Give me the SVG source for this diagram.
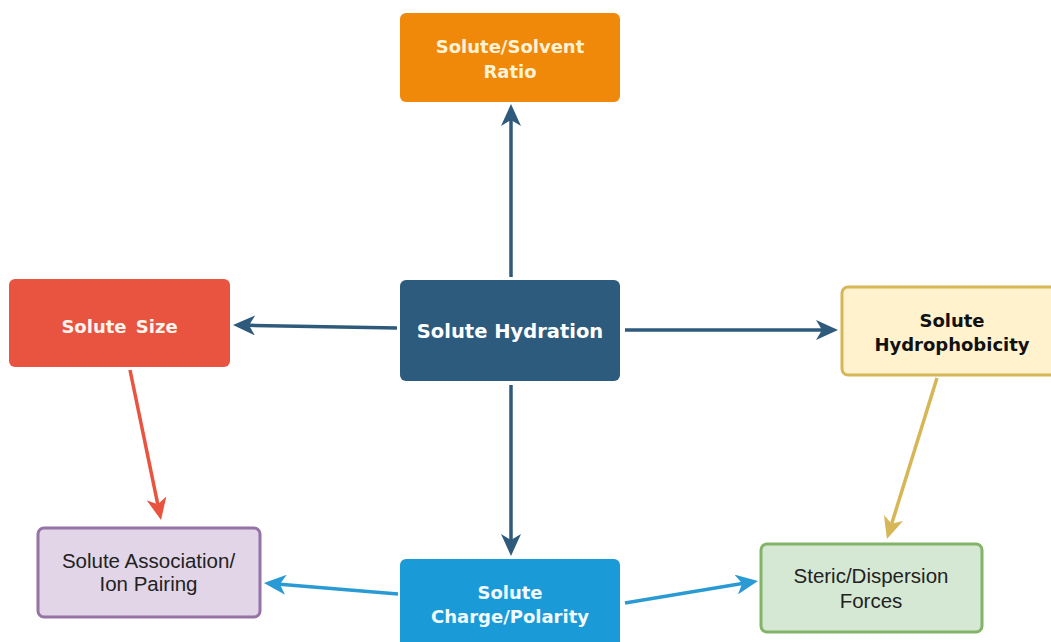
<svg xmlns="http://www.w3.org/2000/svg" width="1051" height="642" viewBox="0 0 1051 642">
<style>
.b{font-family:"DejaVu Sans",Verdana,sans-serif;font-weight:bold;font-size:18px;text-anchor:middle}
.n{font-family:"Liberation Sans",Arial,sans-serif;font-size:20.5px;text-anchor:middle;fill:#222}
.c{fill:none;stroke-width:3.5}
</style>
<defs>
<marker id="mDark" viewBox="0 0 22 20" markerWidth="22" markerHeight="20" refX="6" refY="10" orient="auto" markerUnits="userSpaceOnUse"><path d="M0,0 L22,10 L0,20 L6,10 z" fill="#2E5A7C"/></marker>
<marker id="mRed" viewBox="0 0 22 20" markerWidth="22" markerHeight="20" refX="6" refY="10" orient="auto" markerUnits="userSpaceOnUse"><path d="M0,0 L22,10 L0,20 L6,10 z" fill="#E8543F"/></marker>
<marker id="mGold" viewBox="0 0 22 20" markerWidth="22" markerHeight="20" refX="6" refY="10" orient="auto" markerUnits="userSpaceOnUse"><path d="M0,0 L22,10 L0,20 L6,10 z" fill="#D6B656"/></marker>
<marker id="mBlue" viewBox="0 0 22 20" markerWidth="22" markerHeight="20" refX="6" refY="10" orient="auto" markerUnits="userSpaceOnUse"><path d="M0,0 L22,10 L0,20 L6,10 z" fill="#2A9AD5"/></marker>
</defs>
<rect width="1051" height="642" fill="#ffffff"/>
<g id="connectors">
<line class="c" x1="511" y1="277" x2="511" y2="120" stroke="#2E5A7C" marker-end="url(#mDark)"/>
<line class="c" x1="397" y1="328" x2="249" y2="325.3" stroke="#2E5A7C" marker-end="url(#mDark)"/>
<line class="c" x1="625" y1="330" x2="822" y2="330" stroke="#2E5A7C" marker-end="url(#mDark)"/>
<line class="c" x1="511" y1="385" x2="511" y2="540" stroke="#2E5A7C" marker-end="url(#mDark)"/>
<line class="c" x1="130" y1="370" x2="157.8" y2="504.3" stroke="#E8543F" marker-end="url(#mRed)"/>
<line class="c" x1="937" y1="378" x2="891.7" y2="523.7" stroke="#D6B656" marker-end="url(#mGold)"/>
<line class="c" x1="398" y1="594" x2="279.9" y2="584.3" stroke="#2A9AD5" marker-end="url(#mBlue)"/>
<line class="c" x1="625" y1="603" x2="742.2" y2="583.6" stroke="#2A9AD5" marker-end="url(#mBlue)"/>
</g>
<g id="ratio">
<rect x="400" y="13" width="220" height="89" rx="6" fill="#F0880A"/>
<text class="b" x="510" y="53" fill="#FFF2D6">Solute/Solvent</text>
<text class="b" x="510" y="78" fill="#FFF2D6">Ratio</text>
</g>
<g id="hydration">
<rect x="400" y="280" width="220" height="101" rx="6" fill="#2D5B7E"/>
<text class="b" x="510" y="338" fill="#FFFFFF" style="font-size:19.5px">Solute Hydration</text>
</g>
<g id="size">
<rect x="9" y="279" width="221" height="88" rx="6" fill="#E8543F"/>
<text class="b" x="119.5" y="333" fill="#FFF4EE" style="word-spacing:3px">Solute Size</text>
</g>
<g id="hydrophobicity">
<rect x="842" y="287" width="220" height="88" rx="6" fill="#FFF2CC" stroke="#D6B656" stroke-width="3"/>
<text class="b" x="952" y="327" fill="#111">Solute</text>
<text class="b" x="952" y="351" fill="#111">Hydrophobicity</text>
</g>
<g id="association">
<rect x="38" y="528" width="222" height="89" rx="6" fill="#E1D5E7" stroke="#9673A6" stroke-width="3"/>
<text class="n" x="148.5" y="568">Solute Association/</text>
<text class="n" x="148.5" y="591">Ion Pairing</text>
</g>
<g id="charge">
<rect x="400" y="559" width="220" height="90" rx="6" fill="#1B9AD8"/>
<text class="b" x="510" y="599" fill="#F2FAFF">Solute</text>
<text class="b" x="510" y="623" fill="#F2FAFF">Charge/Polarity</text>
</g>
<g id="steric">
<rect x="761" y="544" width="221" height="88" rx="6" fill="#D5E8D4" stroke="#82B366" stroke-width="3"/>
<text class="n" x="871" y="583">Steric/Dispersion</text>
<text class="n" x="871" y="608">Forces</text>
</g>
</svg>
